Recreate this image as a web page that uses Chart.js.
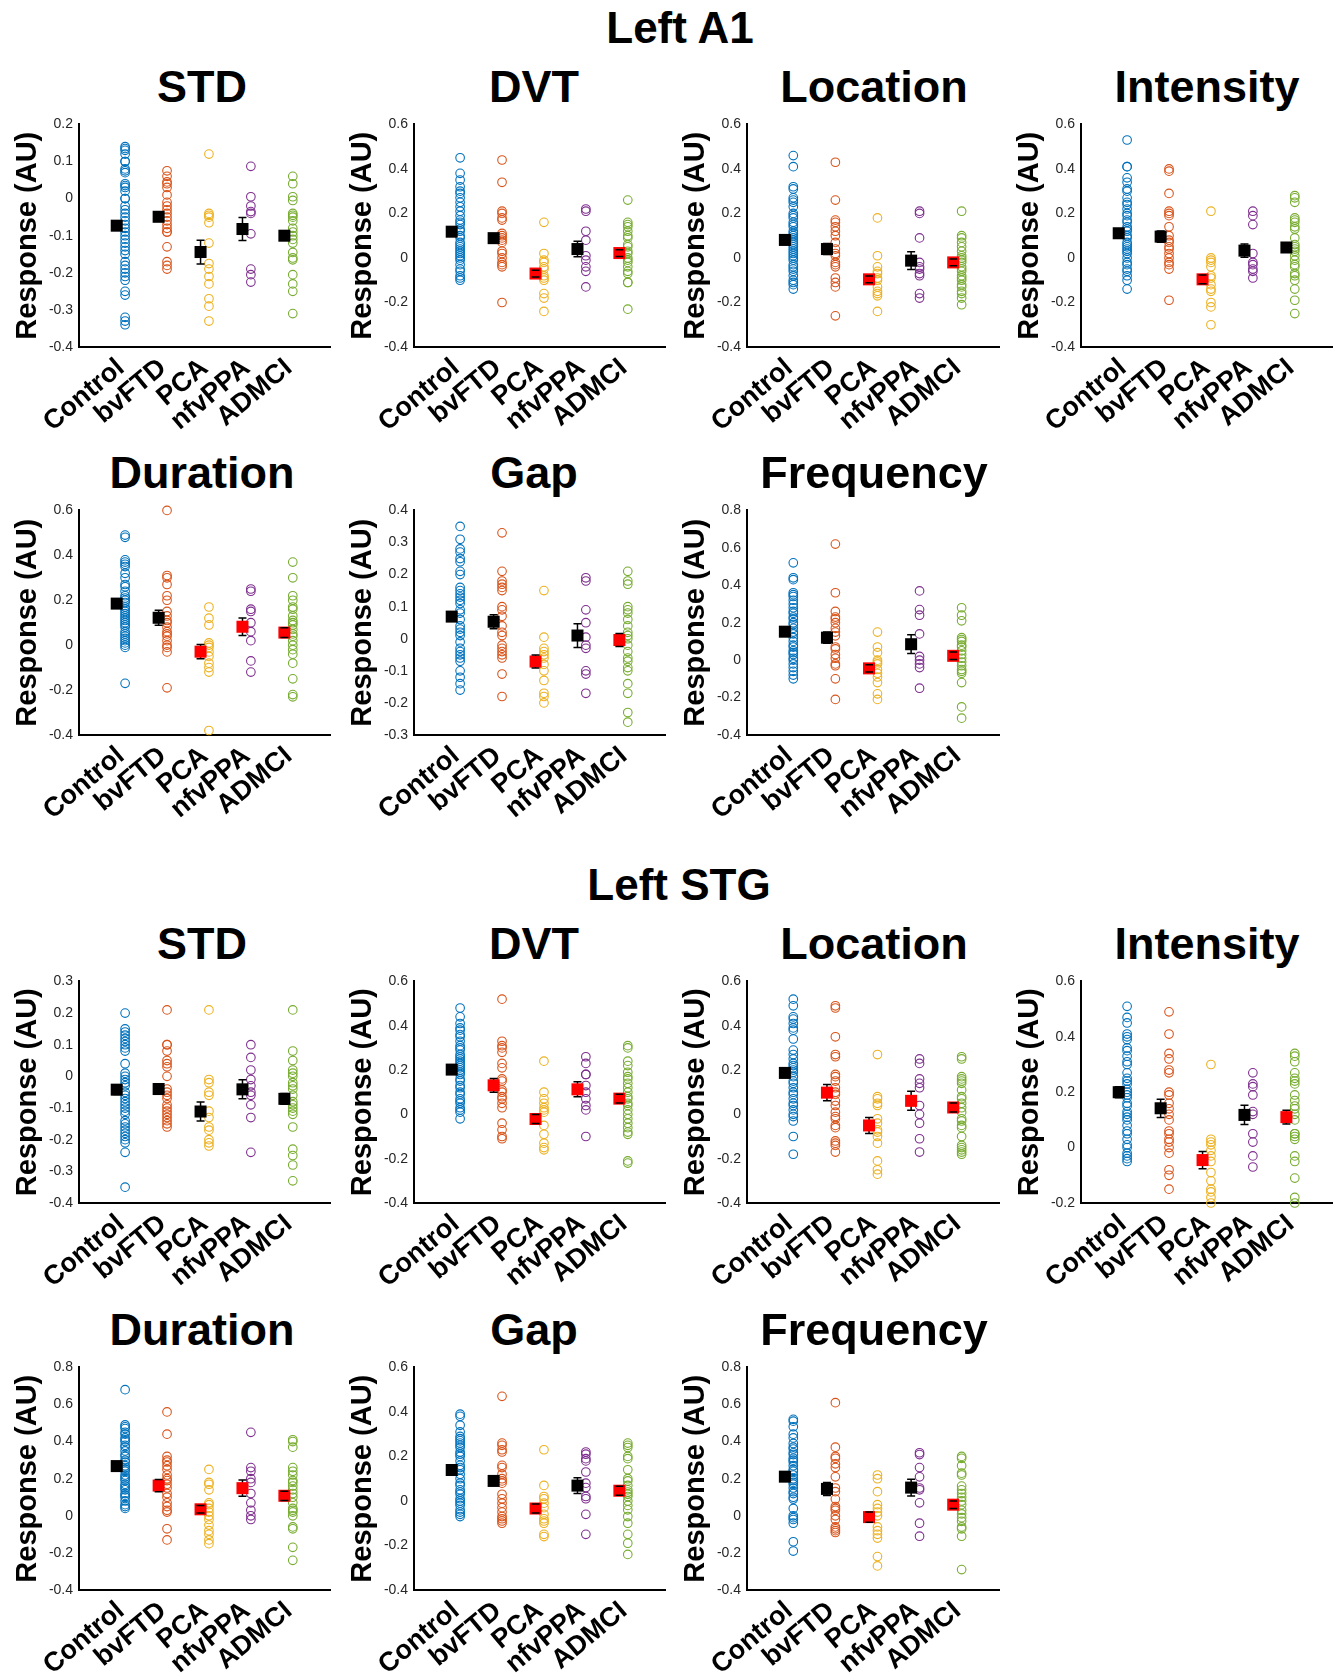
<!DOCTYPE html>
<html>
<head>
<meta charset="utf-8">
<script src="https://cdn.jsdelivr.net/npm/chart.js@4.4.1/dist/chart.umd.min.js"></script>
<style>
  body { margin: 0; background: #fff; width: 1342px; height: 1677px; position: relative; overflow: hidden;
         font-family: 'Liberation Sans', Arial, sans-serif; }
  .panel { position: absolute; }
  .panel canvas { display: block; }
  .title { position: absolute; font-weight: bold; color: #000; white-space: nowrap;
           transform: translateX(-50%); line-height: 50px; }
</style>
</head>
<body>
<script>
const groups = ['Control', 'bvFTD', 'PCA', 'nfvPPA', 'ADMCI'];
const groupColors = ['#0072BD', '#D95319', '#EDB120', '#7E2F8E', '#77AC30'];

// ---- Left A1 ----
const a1Std = [
  [0.14, 0.135, 0.13, 0.12, 0.10, 0.10, 0.08, 0.075, 0.07, 0.04, 0.035, 0.03, 0.02, 0.0, 0.0, -0.02, -0.03, -0.04, -0.05, -0.06, -0.07, -0.08, -0.09, -0.10, -0.11, -0.12, -0.13, -0.14, -0.15, -0.17, -0.18, -0.19, -0.20, -0.21, -0.22, -0.25, -0.26, -0.32, -0.33, -0.34],
  [0.075, 0.06, 0.045, 0.04, 0.03, 0.01, -0.01, -0.02, -0.03, -0.04, -0.05, -0.06, -0.07, -0.08, -0.09, -0.09, -0.13, -0.17, -0.18, -0.19],
  [0.12, -0.04, -0.045, -0.05, -0.065, -0.12, -0.175, -0.19, -0.21, -0.23, -0.27, -0.29, -0.33],
  [0.087, 0.005, -0.02, -0.035, -0.04, -0.095, -0.19, -0.205, -0.225],
  [0.06, 0.04, 0.005, -0.005, -0.04, -0.045, -0.05, -0.06, -0.08, -0.09, -0.10, -0.11, -0.12, -0.145, -0.16, -0.165, -0.205, -0.23, -0.25, -0.31]
];
const a1StdMean = [-0.073, -0.049, -0.144, -0.082, -0.1];
const a1StdSem = [0.012, 0.012, 0.032, 0.031, 0.012];
const a1StdRed = [0, 0, 0, 0, 0];
const a1StdTicks = [-0.4, -0.3, -0.2, -0.1, 0, 0.1, 0.2];

const a1Dvt = [
  [0.45, 0.38, 0.35, 0.32, 0.30, 0.29, 0.27, 0.25, 0.23, 0.21, 0.19, 0.17, 0.16, 0.15, 0.13, 0.12, 0.10, 0.09, 0.07, 0.06, 0.05, 0.04, 0.03, 0.02, 0.01, 0.00, -0.01, -0.03, -0.05, -0.06, -0.08, -0.09, -0.10],
  [0.44, 0.34, 0.21, 0.20, 0.18, 0.17, 0.11, 0.10, 0.09, 0.08, 0.07, 0.03, 0.02, 0.0, -0.02, -0.03, -0.04, -0.20],
  [0.16, 0.02, -0.01, -0.02, -0.04, -0.05, -0.08, -0.09, -0.10, -0.16, -0.18, -0.24],
  [0.22, 0.21, 0.12, 0.08, 0.01, -0.01, -0.04, -0.06, -0.13],
  [0.26, 0.16, 0.15, 0.14, 0.12, 0.10, 0.09, 0.06, 0.05, 0.03, 0.02, 0.0, -0.01, -0.02, -0.04, -0.06, -0.07, -0.11, -0.11, -0.23]
];
const a1DvtMean = [0.118, 0.089, -0.07, 0.04, 0.022];
const a1DvtSem = [0.02, 0.02, 0.015, 0.035, 0.015];
const a1DvtRed = [0, 0, 1, 0, 1];
const a1DvtTicks = [-0.4, -0.2, 0, 0.2, 0.4, 0.6];

const a1Loc = [
  [0.46, 0.41, 0.32, 0.31, 0.27, 0.26, 0.25, 0.23, 0.20, 0.19, 0.18, 0.16, 0.15, 0.14, 0.12, 0.11, 0.10, 0.09, 0.08, 0.07, 0.06, 0.05, 0.04, 0.03, 0.02, 0.01, 0.0, -0.01, -0.03, -0.04, -0.05, -0.06, -0.08, -0.10, -0.11, -0.12, -0.14],
  [0.43, 0.26, 0.17, 0.16, 0.14, 0.12, 0.10, 0.07, 0.04, 0.02, 0.01, -0.02, -0.03, -0.04, -0.09, -0.11, -0.13, -0.26],
  [0.18, 0.01, -0.04, -0.06, -0.07, -0.09, -0.10, -0.13, -0.15, -0.16, -0.17, -0.24],
  [0.21, 0.20, 0.09, -0.02, -0.04, -0.05, -0.07, -0.08, -0.16, -0.18],
  [0.21, 0.10, 0.09, 0.07, 0.05, 0.03, 0.01, 0.0, -0.01, -0.02, -0.04, -0.05, -0.06, -0.08, -0.09, -0.10, -0.12, -0.13, -0.15, -0.16, -0.18, -0.21]
];
const a1LocMean = [0.081, 0.04, -0.096, -0.012, -0.02];
const a1LocSem = [0.02, 0.025, 0.015, 0.04, 0.015];
const a1LocRed = [0, 0, 1, 0, 1];
const a1LocTicks = [-0.4, -0.2, 0, 0.2, 0.4, 0.6];

const a1Int = [
  [0.53, 0.41, 0.41, 0.36, 0.34, 0.31, 0.30, 0.27, 0.25, 0.24, 0.22, 0.20, 0.19, 0.17, 0.16, 0.14, 0.13, 0.12, 0.10, 0.09, 0.07, 0.06, 0.05, 0.04, 0.03, 0.02, 0.0, -0.02, -0.03, -0.05, -0.06, -0.08, -0.10, -0.14],
  [0.40, 0.39, 0.29, 0.21, 0.20, 0.19, 0.14, 0.10, 0.08, 0.07, 0.05, 0.04, 0.02, 0.0, -0.02, -0.03, -0.05, -0.19],
  [0.21, 0.0, -0.01, -0.02, -0.04, -0.08, -0.09, -0.12, -0.14, -0.15, -0.20, -0.22, -0.30],
  [0.21, 0.19, 0.15, 0.02, -0.02, -0.03, -0.05, -0.06, -0.09],
  [0.28, 0.27, 0.25, 0.18, 0.17, 0.16, 0.14, 0.13, 0.09, 0.06, 0.05, 0.04, 0.03, 0.01, -0.01, -0.03, -0.04, -0.07, -0.08, -0.10, -0.14, -0.19, -0.25]
];
const a1IntMean = [0.111, 0.096, -0.096, 0.033, 0.047];
const a1IntSem = [0.02, 0.025, 0.02, 0.03, 0.015];
const a1IntRed = [0, 0, 1, 0, 0];
const a1IntTicks = [-0.4, -0.2, 0, 0.2, 0.4, 0.6];

const a1Dur = [
  [0.49, 0.48, 0.38, 0.37, 0.36, 0.35, 0.32, 0.30, 0.27, 0.26, 0.24, 0.22, 0.21, 0.20, 0.19, 0.17, 0.16, 0.15, 0.14, 0.13, 0.12, 0.11, 0.10, 0.09, 0.08, 0.06, 0.05, 0.04, 0.03, 0.02, 0.01, 0.0, -0.01, -0.17],
  [0.60, 0.31, 0.30, 0.27, 0.22, 0.20, 0.15, 0.13, 0.11, 0.10, 0.08, 0.06, 0.05, 0.04, 0.02, 0.0, -0.01, -0.03, -0.19],
  [0.17, 0.12, 0.09, 0.01, 0.0, -0.01, -0.03, -0.05, -0.08, -0.10, -0.12, -0.38],
  [0.25, 0.24, 0.16, 0.15, 0.10, 0.06, 0.02, -0.07, -0.12],
  [0.37, 0.30, 0.22, 0.20, 0.17, 0.16, 0.13, 0.11, 0.10, 0.09, 0.07, 0.05, 0.04, 0.02, 0.0, -0.02, -0.04, -0.08, -0.15, -0.22, -0.23]
];
const a1DurMean = [0.185, 0.122, -0.029, 0.082, 0.056];
const a1DurSem = [0.02, 0.033, 0.032, 0.039, 0.022];
const a1DurRed = [0, 0, 1, 1, 1];
const a1DurTicks = [-0.4, -0.2, 0, 0.2, 0.4, 0.6];

const a1Gap = [
  [0.35, 0.31, 0.28, 0.27, 0.25, 0.24, 0.21, 0.20, 0.16, 0.15, 0.14, 0.13, 0.12, 0.11, 0.09, 0.08, 0.06, 0.04, 0.03, 0.02, 0.01, -0.01, -0.03, -0.04, -0.05, -0.06, -0.07, -0.10, -0.12, -0.14, -0.16],
  [0.33, 0.21, 0.18, 0.17, 0.16, 0.15, 0.10, 0.09, 0.07, 0.04, 0.02, 0.01, -0.02, -0.03, -0.04, -0.05, -0.06, -0.11, -0.18],
  [0.15, 0.005, -0.03, -0.04, -0.05, -0.06, -0.08, -0.10, -0.13, -0.17, -0.18, -0.20],
  [0.19, 0.18, 0.09, 0.05, 0.005, -0.02, -0.03, -0.10, -0.11, -0.17],
  [0.21, 0.18, 0.17, 0.10, 0.09, 0.08, 0.06, 0.04, 0.02, 0.01, 0.0, -0.02, -0.04, -0.06, -0.07, -0.09, -0.10, -0.14, -0.17, -0.23, -0.26]
];
const a1GapMean = [0.069, 0.053, -0.071, 0.01, -0.004];
const a1GapSem = [0.012, 0.022, 0.02, 0.037, 0.02];
const a1GapRed = [0, 0, 1, 0, 1];
const a1GapTicks = [-0.3, -0.2, -0.1, 0, 0.1, 0.2, 0.3, 0.4];

const a1Freq = [
  [0.52, 0.44, 0.43, 0.36, 0.35, 0.34, 0.32, 0.30, 0.28, 0.26, 0.25, 0.23, 0.22, 0.20, 0.19, 0.17, 0.15, 0.14, 0.12, 0.10, 0.08, 0.07, 0.05, 0.04, 0.03, 0.01, 0.0, -0.02, -0.04, -0.06, -0.08, -0.10],
  [0.62, 0.36, 0.26, 0.23, 0.22, 0.20, 0.17, 0.15, 0.13, 0.07, 0.06, 0.03, 0.01, -0.02, -0.03, -0.10, -0.21],
  [0.15, 0.07, 0.04, 0.0, -0.01, -0.02, -0.05, -0.07, -0.09, -0.12, -0.18, -0.21],
  [0.37, 0.27, 0.24, 0.14, 0.02, 0.0, -0.02, -0.04, -0.15],
  [0.28, 0.24, 0.21, 0.12, 0.11, 0.10, 0.08, 0.07, 0.05, 0.03, 0.01, -0.01, -0.03, -0.05, -0.06, -0.07, -0.12, -0.25, -0.31]
];
const a1FreqMean = [0.152, 0.12, -0.044, 0.085, 0.023];
const a1FreqSem = [0.025, 0.03, 0.02, 0.05, 0.02];
const a1FreqRed = [0, 0, 1, 0, 1];
const a1FreqTicks = [-0.4, -0.2, 0, 0.2, 0.4, 0.6, 0.8];

// ---- Left STG ----
const stgStd = [
  [0.20, 0.15, 0.14, 0.13, 0.12, 0.11, 0.10, 0.09, 0.08, 0.04, 0.01, 0.0, -0.01, -0.02, -0.03, -0.05, -0.06, -0.07, -0.08, -0.09, -0.10, -0.11, -0.12, -0.14, -0.15, -0.16, -0.17, -0.18, -0.19, -0.20, -0.21, -0.24, -0.35],
  [0.21, 0.10, 0.10, 0.08, 0.05, 0.04, 0.03, 0.0, -0.04, -0.05, -0.06, -0.07, -0.09, -0.10, -0.11, -0.12, -0.13, -0.14, -0.15, -0.16],
  [0.21, -0.01, -0.02, -0.05, -0.06, -0.11, -0.13, -0.16, -0.17, -0.20, -0.21, -0.22],
  [0.10, 0.06, 0.02, -0.01, -0.03, -0.05, -0.06, -0.09, -0.13, -0.24],
  [0.21, 0.08, 0.05, 0.02, 0.01, 0.0, -0.02, -0.03, -0.04, -0.06, -0.08, -0.09, -0.10, -0.11, -0.12, -0.16, -0.23, -0.25, -0.28, -0.33]
];
const stgStdMean = [-0.042, -0.04, -0.111, -0.041, -0.071];
const stgStdSem = [0.015, 0.015, 0.03, 0.03, 0.017];
const stgStdRed = [0, 0, 0, 0, 0];
const stgStdTicks = [-0.4, -0.3, -0.2, -0.1, 0, 0.1, 0.2, 0.3];

const stgDvt = [
  [0.48, 0.44, 0.41, 0.39, 0.38, 0.36, 0.35, 0.33, 0.31, 0.30, 0.29, 0.27, 0.26, 0.25, 0.24, 0.23, 0.22, 0.21, 0.20, 0.19, 0.18, 0.16, 0.15, 0.13, 0.12, 0.10, 0.09, 0.07, 0.06, 0.05, 0.03, 0.02, 0.01, -0.02],
  [0.52, 0.33, 0.31, 0.30, 0.28, 0.23, 0.21, 0.16, 0.15, 0.11, 0.10, 0.08, 0.07, 0.05, 0.03, -0.04, -0.07, -0.10, -0.11],
  [0.24, 0.10, 0.07, 0.05, 0.03, 0.02, 0.01, -0.05, -0.09, -0.13, -0.15, -0.16],
  [0.26, 0.23, 0.18, 0.18, 0.13, 0.10, 0.07, 0.04, 0.02, -0.10],
  [0.31, 0.30, 0.24, 0.22, 0.19, 0.17, 0.16, 0.14, 0.12, 0.10, 0.08, 0.07, 0.05, 0.04, 0.02, 0.0, -0.02, -0.04, -0.06, -0.08, -0.09, -0.21, -0.22]
];
const stgDvtMean = [0.202, 0.131, -0.021, 0.113, 0.071];
const stgDvtSem = [0.018, 0.031, 0.02, 0.034, 0.02];
const stgDvtRed = [0, 1, 1, 1, 1];
const stgDvtTicks = [-0.4, -0.2, 0, 0.2, 0.4, 0.6];

const stgLoc = [
  [0.52, 0.49, 0.44, 0.43, 0.41, 0.39, 0.38, 0.34, 0.29, 0.27, 0.25, 0.23, 0.22, 0.21, 0.20, 0.19, 0.17, 0.15, 0.14, 0.12, 0.10, 0.09, 0.07, 0.05, 0.04, 0.02, 0.0, -0.01, -0.03, -0.10, -0.18],
  [0.49, 0.48, 0.35, 0.27, 0.26, 0.18, 0.17, 0.15, 0.12, 0.10, 0.09, 0.06, 0.04, 0.01, -0.01, -0.02, -0.05, -0.06, -0.12, -0.13, -0.14, -0.17],
  [0.27, 0.08, 0.07, 0.05, 0.04, -0.02, -0.04, -0.07, -0.08, -0.10, -0.13, -0.21, -0.25, -0.27],
  [0.25, 0.23, 0.16, 0.14, 0.12, 0.04, 0.0, -0.04, -0.11, -0.17],
  [0.26, 0.25, 0.17, 0.16, 0.15, 0.14, 0.11, 0.08, 0.07, 0.05, 0.03, 0.01, -0.02, -0.03, -0.05, -0.06, -0.10, -0.14, -0.15, -0.16, -0.17, -0.18]
];
const stgLocMean = [0.187, 0.098, -0.05, 0.061, 0.031];
const stgLocSem = [0.02, 0.037, 0.036, 0.043, 0.02];
const stgLocRed = [0, 1, 1, 1, 1];
const stgLocTicks = [-0.4, -0.2, 0, 0.2, 0.4, 0.6];

const stgInt = [
  [0.51, 0.47, 0.45, 0.41, 0.40, 0.39, 0.36, 0.35, 0.33, 0.31, 0.30, 0.27, 0.25, 0.24, 0.23, 0.21, 0.20, 0.19, 0.18, 0.16, 0.15, 0.13, 0.12, 0.11, 0.10, 0.08, 0.06, 0.05, 0.03, 0.01, 0.0, -0.02, -0.03, -0.04, -0.05],
  [0.49, 0.41, 0.34, 0.32, 0.28, 0.27, 0.20, 0.19, 0.16, 0.14, 0.12, 0.10, 0.06, 0.05, 0.03, 0.02, 0.0, -0.02, -0.08, -0.10, -0.15],
  [0.30, 0.03, 0.02, 0.01, -0.01, -0.03, -0.05, -0.09, -0.12, -0.15, -0.16, -0.18, -0.20],
  [0.27, 0.23, 0.22, 0.19, 0.13, 0.12, 0.05, 0.02, -0.03, -0.07],
  [0.34, 0.33, 0.31, 0.27, 0.25, 0.24, 0.23, 0.19, 0.17, 0.15, 0.14, 0.12, 0.10, 0.05, 0.05, 0.04, 0.03, -0.03, -0.05, -0.11, -0.18, -0.20]
];
const stgIntMean = [0.2, 0.142, -0.045, 0.118, 0.11];
const stgIntSem = [0.02, 0.033, 0.031, 0.035, 0.025];
const stgIntRed = [0, 0, 1, 0, 1];
const stgIntTicks = [-0.2, 0, 0.2, 0.4, 0.6];

const stgDur = [
  [0.68, 0.49, 0.48, 0.47, 0.45, 0.44, 0.42, 0.41, 0.40, 0.38, 0.37, 0.35, 0.33, 0.32, 0.30, 0.29, 0.27, 0.26, 0.25, 0.24, 0.22, 0.21, 0.20, 0.19, 0.17, 0.16, 0.15, 0.14, 0.12, 0.11, 0.10, 0.08, 0.06, 0.05, 0.04],
  [0.56, 0.44, 0.32, 0.30, 0.29, 0.27, 0.25, 0.22, 0.20, 0.19, 0.17, 0.15, 0.12, 0.10, 0.07, 0.05, 0.03, 0.02, -0.07, -0.13],
  [0.25, 0.18, 0.17, 0.14, 0.07, 0.06, 0.04, 0.02, 0.0, -0.02, -0.05, -0.08, -0.10, -0.13, -0.15],
  [0.45, 0.26, 0.24, 0.20, 0.18, 0.12, 0.07, 0.03, 0.0, -0.02],
  [0.41, 0.40, 0.37, 0.26, 0.24, 0.22, 0.19, 0.18, 0.16, 0.14, 0.12, 0.10, 0.07, 0.04, 0.03, 0.02, 0.0, -0.06, -0.07, -0.17, -0.24]
];
const stgDurMean = [0.268, 0.163, 0.035, 0.149, 0.108];
const stgDurSem = [0.02, 0.033, 0.02, 0.044, 0.025];
const stgDurRed = [0, 1, 1, 1, 1];
const stgDurTicks = [-0.4, -0.2, 0, 0.2, 0.4, 0.6, 0.8];

const stgGap = [
  [0.39, 0.38, 0.34, 0.31, 0.29, 0.28, 0.27, 0.26, 0.25, 0.24, 0.22, 0.21, 0.20, 0.18, 0.16, 0.15, 0.14, 0.12, 0.10, 0.08, 0.07, 0.05, 0.04, 0.03, 0.01, 0.0, -0.01, -0.02, -0.04, -0.05, -0.06, -0.07],
  [0.47, 0.26, 0.25, 0.23, 0.22, 0.16, 0.15, 0.12, 0.10, 0.09, 0.08, 0.03, 0.01, -0.01, -0.03, -0.05, -0.07, -0.08, -0.09, -0.10],
  [0.23, 0.07, 0.02, 0.01, -0.01, -0.03, -0.06, -0.08, -0.09, -0.10, -0.15, -0.16],
  [0.22, 0.21, 0.19, 0.18, 0.13, 0.08, 0.06, 0.02, 0.01, -0.06, -0.15],
  [0.26, 0.25, 0.24, 0.20, 0.19, 0.14, 0.10, 0.09, 0.07, 0.05, 0.04, 0.03, 0.02, 0.0, -0.02, -0.04, -0.07, -0.10, -0.15, -0.19, -0.24]
];
const stgGapMean = [0.139, 0.09, -0.034, 0.069, 0.046];
const stgGapSem = [0.02, 0.02, 0.02, 0.035, 0.02];
const stgGapRed = [0, 0, 1, 0, 1];
const stgGapTicks = [-0.4, -0.2, 0, 0.2, 0.4, 0.6];

const stgFreq = [
  [0.52, 0.51, 0.48, 0.44, 0.42, 0.39, 0.37, 0.36, 0.34, 0.33, 0.31, 0.30, 0.29, 0.27, 0.25, 0.24, 0.22, 0.20, 0.19, 0.18, 0.17, 0.15, 0.13, 0.12, 0.10, 0.09, 0.04, 0.0, -0.01, -0.02, -0.04, -0.14, -0.19],
  [0.61, 0.37, 0.32, 0.31, 0.28, 0.26, 0.21, 0.15, 0.13, 0.09, 0.05, 0.04, 0.03, 0.0, -0.02, -0.06, -0.07, -0.08, -0.09],
  [0.22, 0.20, 0.13, 0.06, 0.04, 0.02, 0.0, -0.06, -0.08, -0.10, -0.12, -0.22, -0.27],
  [0.34, 0.33, 0.26, 0.21, 0.15, 0.14, 0.07, -0.04, -0.11],
  [0.32, 0.31, 0.27, 0.23, 0.22, 0.16, 0.14, 0.12, 0.10, 0.08, 0.06, 0.03, 0.01, -0.01, -0.03, -0.06, -0.07, -0.11, -0.29]
];
const stgFreqMean = [0.211, 0.145, -0.007, 0.152, 0.06];
const stgFreqSem = [0.02, 0.035, 0.028, 0.045, 0.02];
const stgFreqRed = [0, 0, 1, 0, 1];
const stgFreqTicks = [-0.4, -0.2, 0, 0.2, 0.4, 0.6, 0.8];

const panels = [
  { row: 0, col: 0, title: 'STD', pts: a1Std, mean: a1StdMean, sem: a1StdSem, red: a1StdRed, ticks: a1StdTicks },
  { row: 0, col: 1, title: 'DVT', pts: a1Dvt, mean: a1DvtMean, sem: a1DvtSem, red: a1DvtRed, ticks: a1DvtTicks },
  { row: 0, col: 2, title: 'Location', pts: a1Loc, mean: a1LocMean, sem: a1LocSem, red: a1LocRed, ticks: a1LocTicks },
  { row: 0, col: 3, title: 'Intensity', pts: a1Int, mean: a1IntMean, sem: a1IntSem, red: a1IntRed, ticks: a1IntTicks },
  { row: 1, col: 0, title: 'Duration', pts: a1Dur, mean: a1DurMean, sem: a1DurSem, red: a1DurRed, ticks: a1DurTicks },
  { row: 1, col: 1, title: 'Gap', pts: a1Gap, mean: a1GapMean, sem: a1GapSem, red: a1GapRed, ticks: a1GapTicks },
  { row: 1, col: 2, title: 'Frequency', pts: a1Freq, mean: a1FreqMean, sem: a1FreqSem, red: a1FreqRed, ticks: a1FreqTicks },
  { row: 2, col: 0, title: 'STD', pts: stgStd, mean: stgStdMean, sem: stgStdSem, red: stgStdRed, ticks: stgStdTicks },
  { row: 2, col: 1, title: 'DVT', pts: stgDvt, mean: stgDvtMean, sem: stgDvtSem, red: stgDvtRed, ticks: stgDvtTicks },
  { row: 2, col: 2, title: 'Location', pts: stgLoc, mean: stgLocMean, sem: stgLocSem, red: stgLocRed, ticks: stgLocTicks },
  { row: 2, col: 3, title: 'Intensity', pts: stgInt, mean: stgIntMean, sem: stgIntSem, red: stgIntRed, ticks: stgIntTicks },
  { row: 3, col: 0, title: 'Duration', pts: stgDur, mean: stgDurMean, sem: stgDurSem, red: stgDurRed, ticks: stgDurTicks },
  { row: 3, col: 1, title: 'Gap', pts: stgGap, mean: stgGapMean, sem: stgGapSem, red: stgGapRed, ticks: stgGapTicks },
  { row: 3, col: 2, title: 'Frequency', pts: stgFreq, mean: stgFreqMean, sem: stgFreqSem, red: stgFreqRed, ticks: stgFreqTicks },
];

// axes boxes on the page
const colLeft = [79, 414, 747, 1081];
const colRight = [333, 668, 1002, 1335];
const rowTop = [122, 508, 979, 1365];
const rowBottom = [347, 735, 1203, 1590];
const titleCenter = [202, 534, 874, 1207];

const FONT = "'Liberation Sans', Arial, sans-serif";
Chart.defaults.font.family = FONT;

function addText(text, x, y, size) {
  const el = document.createElement('div');
  el.className = 'title';
  el.textContent = text;
  el.style.left = x + 'px';
  el.style.top = y + 'px';
  el.style.fontSize = size + 'px';
  document.body.appendChild(el);
}

addText('Left A1', 680, 3, 44);
addText('Left STG', 679, 860, 44);

// vertical bars behind the squares, caps on top
function drawErrorBars(chart, opts, caps) {
  const { ctx, scales: { x, y } } = chart;
  ctx.save();
  ctx.strokeStyle = '#000';
  ctx.lineWidth = 1.5;
  opts.mean.forEach((m, i) => {
    const px = x.getPixelForValue(i + 1 - 0.1);
    const hi = y.getPixelForValue(m + opts.sem[i]);
    const lo = y.getPixelForValue(m - opts.sem[i]);
    ctx.beginPath();
    if (caps) {
      ctx.moveTo(px - 4, hi); ctx.lineTo(px + 4, hi);
      ctx.moveTo(px - 4, lo); ctx.lineTo(px + 4, lo);
    } else {
      ctx.moveTo(px, hi); ctx.lineTo(px, lo);
    }
    ctx.stroke();
  });
  ctx.restore();
}

const errorBars = {
  id: 'errorBars',
  beforeDatasetsDraw(chart, args, opts) { drawErrorBars(chart, opts, false); },
  afterDatasetsDraw(chart, args, opts) { drawErrorBars(chart, opts, true); },
};

const Y_AXIS_W = 79, PAD_TOP = 12, PAD_RIGHT = 6, X_AXIS_H = 100;

function fmtTick(v) {
  const r = Math.round(v * 10) / 10;
  return r === 0 ? '0' : String(r);
}

panels.forEach((p) => {
  const axL = colLeft[p.col], axR = colRight[p.col];
  const axT = rowTop[p.row], axB = rowBottom[p.row];
  const w = axR - axL + Y_AXIS_W + PAD_RIGHT;
  const h = axB - axT + PAD_TOP + X_AXIS_H;

  addText(p.title, titleCenter[p.col], axT - 60, 45);

  const wrap = document.createElement('div');
  wrap.className = 'panel';
  wrap.style.left = (axL - Y_AXIS_W) + 'px';
  wrap.style.top = (axT - PAD_TOP) + 'px';
  const canvas = document.createElement('canvas');
  canvas.width = w;
  canvas.height = h;
  wrap.appendChild(canvas);
  document.body.appendChild(wrap);

  const meanSet = {
    data: p.mean.map((m, i) => ({ x: i + 1 - 0.1, y: m })),
    pointStyle: 'rect',
    pointRadius: 8.5,
    pointBorderWidth: 0,
    pointBackgroundColor: p.red.map((r) => (r ? '#ff0000' : '#000000')),
    pointBorderColor: p.red.map((r) => (r ? '#ff0000' : '#000000')),
    clip: false,
  };
  const groupSets = p.pts.map((vals, i) => ({
    data: vals.map((v) => ({ x: i + 1 + 0.1, y: v })),
    pointStyle: 'circle',
    pointRadius: 4.3,
    pointBorderWidth: 1.1,
    pointBorderColor: groupColors[i],
    pointBackgroundColor: 'rgba(0,0,0,0)',
    clip: false,
  }));

  new Chart(canvas, {
    type: 'scatter',
    data: { datasets: [meanSet, ...groupSets] },
    plugins: [errorBars],
    options: {
      responsive: false,
      animation: false,
      devicePixelRatio: 1,
      layout: { padding: { left: 0, top: PAD_TOP, right: PAD_RIGHT, bottom: 0 } },
      plugins: {
        legend: { display: false },
        tooltip: { enabled: false },
        errorBars: { mean: p.mean, sem: p.sem },
      },
      scales: {
        x: {
          type: 'linear',
          min: 0,
          max: 6,
          afterBuildTicks: (s) => { s.ticks = groups.map((g, i) => ({ value: i + 1 })); },
          afterFit: (s) => { s.height = X_AXIS_H; },
          ticks: {
            callback: (v) => groups[v - 1],
            autoSkip: false,
            minRotation: 40,
            maxRotation: 40,
            padding: 5,
            color: '#000',
            font: { size: 27, weight: 'bold' },
          },
          grid: { display: false, drawTicks: false },
          border: { display: true, color: '#000', width: 2 },
        },
        y: {
          type: 'linear',
          min: p.ticks[0],
          max: p.ticks[p.ticks.length - 1],
          afterBuildTicks: (s) => { s.ticks = p.ticks.map((v) => ({ value: v })); },
          afterFit: (s) => { s.width = Y_AXIS_W; },
          ticks: {
            callback: (v) => fmtTick(v),
            padding: 6,
            color: '#262626',
            font: { size: 14 },
          },
          grid: { display: false, drawTicks: false },
          border: { display: true, color: '#000', width: 2 },
          title: {
            display: true,
            text: 'Response (AU)',
            color: '#000',
            font: { size: 29, weight: 'bold' },
            padding: { top: 11, bottom: 0 },
          },
        },
      },
    },
  });
});
</script>
</body>
</html>
